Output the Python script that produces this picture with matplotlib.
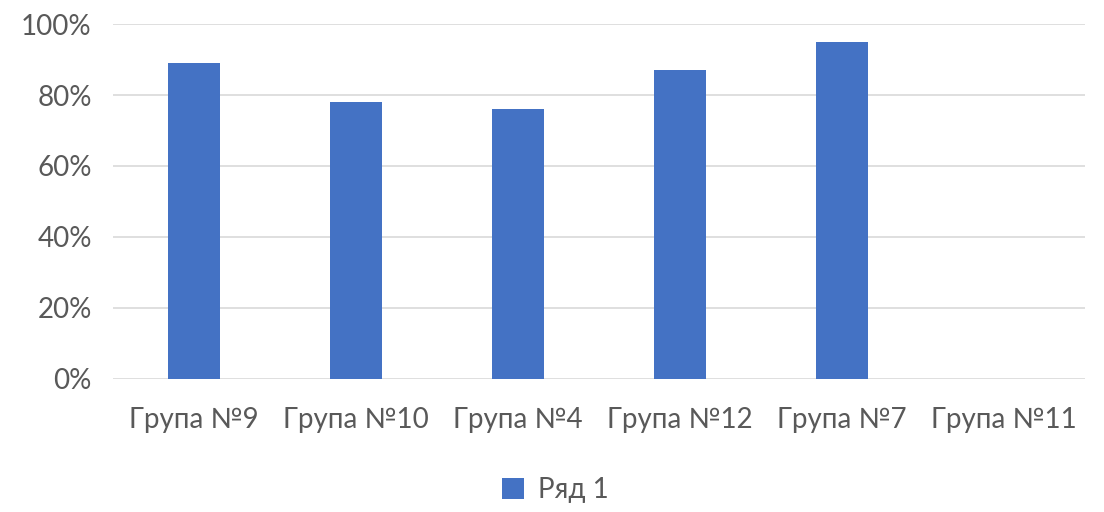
import numpy as np
import matplotlib
matplotlib.use("Agg")
from matplotlib import pyplot as plt
from matplotlib.ticker import PercentFormatter

plt.rcParams["font.family"] = ["Lato", "Noto Sans", "DejaVu Sans"]

# chart data
groups = ["Група №9", "Група №10", "Група №4", "Група №12", "Група №7", "Група №11"]
values = [0.89, 0.78, 0.76, 0.87, 0.95, 0.0]
series_name = "Ряд 1"

text_color = "#595959"
grid_color = "#d9d9d9"
bar_color = "#4472C4"

fig = plt.figure(figsize=(11.04, 5.12), dpi=100)
ax = fig.add_axes([0.102, 0.260, 0.881, 0.693])

x = np.arange(len(groups))
ax.bar(x, values, width=0.32, color=bar_color, label=series_name, zorder=3)

ax.set_xlim(-0.5, len(groups) - 0.5)
ax.set_ylim(0, 1.0)
ax.set_yticks(np.arange(0, 1.01, 0.2))
ax.yaxis.set_major_formatter(PercentFormatter(1.0, decimals=0))
ax.set_xticks(x)
ax.set_xticklabels(groups)

ax.grid(axis="y", color=grid_color, linewidth=1.2, zorder=0)
for s in ["top", "right", "left", "bottom"]:
    ax.spines[s].set_visible(False)
ax.tick_params(axis="both", length=0, labelsize=20, colors=text_color)
ax.tick_params(axis="x", pad=20)
ax.tick_params(axis="y", pad=15)

fig.legend(loc="center", bbox_to_anchor=(0.503, 0.042), frameon=False,
           fontsize=20, labelcolor=text_color, handlelength=0.8,
           handleheight=0.8, handletextpad=0.5)

fig.savefig("out.png", dpi=100, facecolor="white")
